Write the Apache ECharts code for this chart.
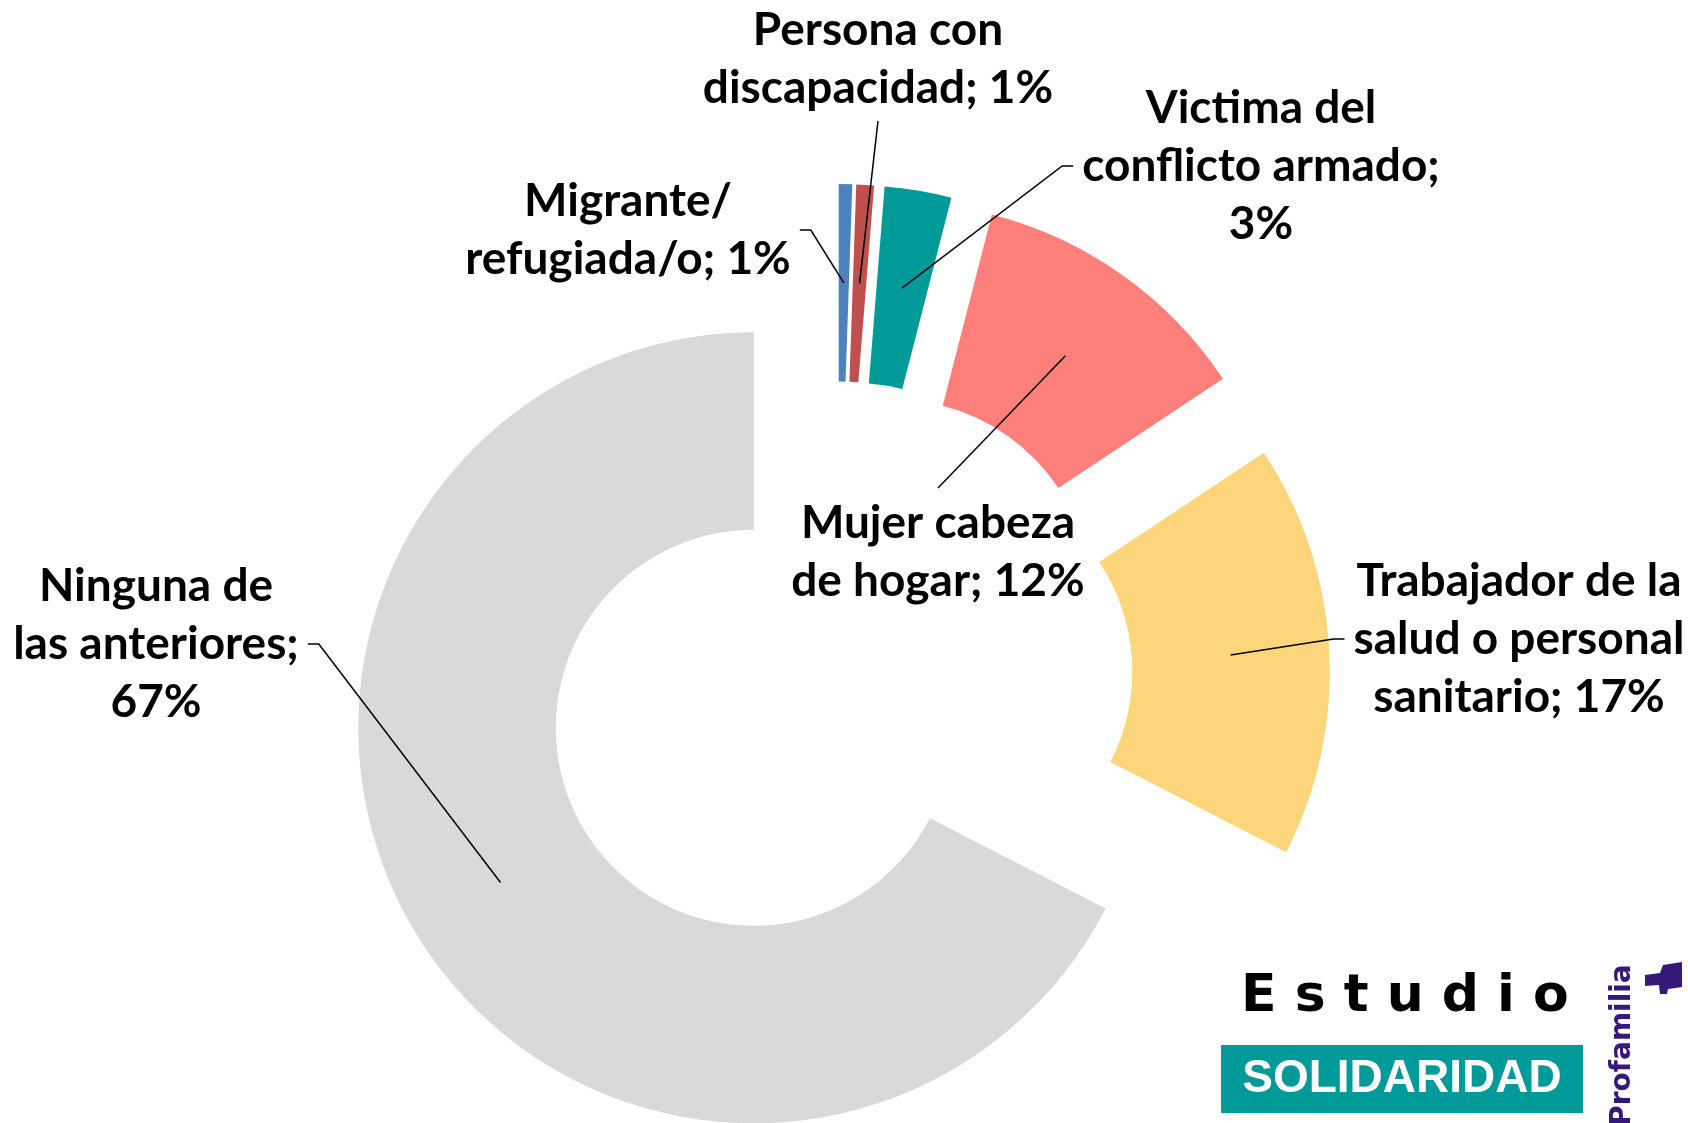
<!DOCTYPE html>
<html>
<head>
<meta charset="utf-8">
<title>Estudio Solidaridad</title>
<script src="https://cdn.jsdelivr.net/npm/echarts@6/dist/echarts.min.js"></script>
<style>
    html, body { margin: 0; padding: 0; background: #ffffff; }
    #chart { width: 1688px; height: 1123px; }
</style>
</head>
<body>
<div id="chart"></div>
<script>
'use strict';
// categorias (con el salto de linea de la etiqueta)
var categories = [
    'Migrante/\nrefugiada/o',
    'Persona con\ndiscapacidad',
    'Victima del\nconflicto armado',
    'Mujer cabeza\nde hogar',
    'Trabajador de la\nsalud o personal\nsanitario',
    'Ninguna de\nlas anteriores'
];
// porcentajes
var values = [0.55, 0.72, 2.73, 11.67, 16.88, 67.45];
// el porcentaje va en una linea aparte?
var valueOnNewLine = [false, false, true, false, false, true];
var colors = ['#4f81bd', '#c0504d', '#009a98', '#ff7f7a', '#fdd57b', '#d9d9d9'];

// layout
var CENTER = [837, 677];
var R_IN = 198;
var R_OUT = 395.5;
var R_MID = (R_IN + R_OUT) / 2;
var EXPLODE = 97.5;
var labelPos = [[628, 230], [878, 59], [1261, 166], [938, 552], [1519, 639], [156, 644]];
var FONT = 'Lato, "Open Sans", sans-serif';

var pieData = categories.map(function (name, i) {
    return { name: name, value: values[i], selected: true, itemStyle: { color: colors[i] } };
});
var labelData = categories.map(function (name, i) {
    return { name: name, value: values[i] };
});

function labelText(params) {
    var i = params.dataIndex;
    return categories[i] + (valueOnNewLine[i] ? ';\n' : '; ') + Math.round(values[i]) + '%';
}

// linea guia: del centro de la porcion (desplazada) al lado mas cercano de la etiqueta
function placeLabel(params) {
    var pos = labelPos[params.dataIndex];
    var p0 = params.labelLinePoints[0];
    var k = (R_MID + EXPLODE) / R_MID;
    var a = [CENTER[0] + (p0[0] - CENTER[0]) * k, CENTER[1] + (p0[1] - CENTER[1]) * k];
    var w = params.labelRect.width, h = params.labelRect.height;
    var left = pos[0] - w / 2, right = pos[0] + w / 2;
    var top = pos[1] - h / 2, bottom = pos[1] + h / 2;
    var pts;
    if (a[0] < left) {
        pts = [a, [left - 20, pos[1]], [left - 9, pos[1]]];
    } else if (a[0] > right) {
        pts = [a, [right + 20, pos[1]], [right + 9, pos[1]]];
    } else if (a[1] > bottom) {
        pts = [a, [pos[0], bottom + 4], [pos[0], bottom + 4]];
    } else {
        pts = [a, [pos[0], top - 6], [pos[0], top - 6]];
    }
    return {
        x: pos[0],
        y: pos[1],
        align: 'center',
        verticalAlign: 'middle',
        labelLinePoints: pts
    };
}

var myChart = echarts.init(document.getElementById('chart'));
myChart.setOption({
    backgroundColor: '#ffffff',
    animation: false,
    series: [
        {
            name: 'porciones',
            type: 'pie',
            z: 2,
            center: CENTER,
            radius: [R_IN, R_OUT],
            startAngle: 90,
            clockwise: true,
            selectedMode: 'multiple',
            selectedOffset: EXPLODE,
            silent: true,
            label: { show: false },
            labelLine: { show: false },
            emphasis: { disabled: true },
            data: pieData
        },
        {
            name: 'etiquetas',
            type: 'pie',
            z: 5,
            center: CENTER,
            radius: [0, R_MID],
            startAngle: 90,
            clockwise: true,
            silent: true,
            avoidLabelOverlap: false,
            itemStyle: { color: 'rgba(0,0,0,0)' },
            emphasis: { disabled: true },
            label: {
                show: true,
                position: 'outside',
                formatter: labelText,
                fontFamily: FONT,
                fontWeight: 'bold',
                fontSize: 46,
                lineHeight: 58,
                color: '#000000',
                align: 'center'
            },
            labelLine: {
                show: true,
                length: 10,
                length2: 10,
                lineStyle: { color: '#000000', width: 1.5 }
            },
            labelLayout: placeLabel,
            data: labelData
        }
    ],
    graphic: [
        {
            type: 'text',
            style: {
                text: 'E s t u d i o',
                x: 1241, y: 997,
                align: 'left', verticalAlign: 'middle',
                font: 'bold 52px "DejaVu Sans", sans-serif',
                fill: '#000000'
            }
        },
        {
            type: 'rect',
            shape: { x: 1221, y: 1045, width: 362, height: 68 },
            style: { fill: '#009a98' }
        },
        {
            type: 'text',
            style: {
                text: 'SOLIDARIDAD',
                x: 1402, y: 1079,
                align: 'center', verticalAlign: 'middle',
                font: 'bold 46px "Liberation Sans", Arial, sans-serif',
                fill: '#ffffff'
            }
        },
        {
            type: 'text',
            x: 1623, y: 1045,
            rotation: Math.PI / 2,
            style: {
                text: 'Profamilia',
                x: 0, y: 0,
                align: 'center', verticalAlign: 'middle',
                font: 'bold 28px "DejaVu Sans", sans-serif',
                fill: '#34187a'
            }
        },
        {
            type: 'polygon',
            shape: {
                points: [[1645, 975], [1660, 973], [1663, 965], [1682, 962], [1682, 987],
                    [1668, 989], [1667, 994], [1660, 994], [1659, 985], [1645, 986]]
            },
            style: { fill: '#34187a' }
        }
    ]
});
</script>
</body>
</html>
